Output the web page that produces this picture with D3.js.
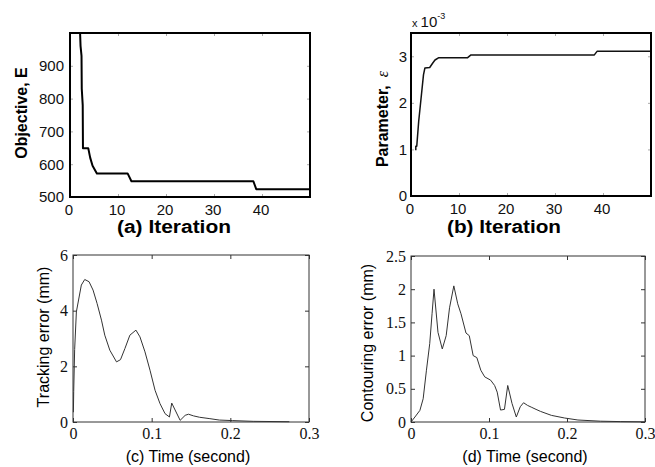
<!DOCTYPE html>
<html>
<head>
<meta charset="utf-8">
<script src="https://cdnjs.cloudflare.com/ajax/libs/d3/7.8.5/d3.min.js"></script>
<style>
  html, body { margin: 0; padding: 0; background: #fff; }
  svg { display: block; }
</style>
</head>
<body>
<svg id="chart" width="655" height="467"></svg>
<script>
// ---------- data ----------
// (a) objective vs iteration
const iterA = [2.1, 2.2, 2.4, 2.45, 2.65, 2.7, 3.8, 4.2, 4.7, 5.6, 12.0, 12.8, 38.2, 38.8, 50];
const objA  = [1000, 960, 930, 830, 780, 649, 649, 620, 595, 572, 572, 548, 548, 524, 524];
const ticksAx = [0, 10, 20, 30, 40];
const ticksAy = [500, 600, 700, 800, 900];

// (b) parameter epsilon vs iteration (in units of 1e-3)
const iterB  = [1.0, 1.0, 1.2, 1.6, 2.2, 2.6, 2.9, 3.9, 4.5, 5.0, 5.8, 11.8, 12.5, 38.2, 38.8, 50];
const paramB = [0.98, 1.07, 1.07, 1.6, 2.2, 2.6, 2.75, 2.76, 2.85, 2.92, 2.97, 2.97, 3.03, 3.03, 3.11, 3.11];
const ticksBx = [0, 10, 20, 30, 40];
const ticksBy = [0, 1, 2, 3];

// (c) tracking error (mm) vs time (s)
const timeC = [0.0005, 0.0009, 0.0021, 0.0043, 0.0106, 0.0149, 0.0204, 0.0255, 0.0306, 0.0362, 0.0404,
               0.0468, 0.0553, 0.0604, 0.066, 0.0723, 0.08, 0.0851, 0.0915, 0.0979, 0.1043, 0.1106,
               0.117, 0.1226, 0.1255, 0.1362, 0.1426, 0.1468, 0.1532, 0.161, 0.174, 0.186, 0.203, 0.229, 0.275];
const errC  = [0.35, 1.1, 2.6, 3.96, 4.92, 5.12, 5.04, 4.74, 4.26, 3.66, 3.12,
               2.58, 2.16, 2.24, 2.64, 3.12, 3.3, 3.06, 2.52, 1.86, 1.14, 0.66,
               0.3, 0.18, 0.68, 0.06, 0.24, 0.28, 0.22, 0.17, 0.12, 0.07, 0.05, 0.024, 0.01];
const ticksCx = [0, 0.1, 0.2, 0.3];
const ticksCy = [0, 2, 4, 6];

// (d) contouring error (mm) vs time (s)
const timeD = [0, 0.005, 0.0114, 0.0156, 0.0198, 0.024, 0.027, 0.0295, 0.0346, 0.0401, 0.0451, 0.0494,
               0.0549, 0.0599, 0.0641, 0.0705, 0.0747, 0.0797, 0.0844, 0.0895, 0.0945, 0.1021, 0.1072,
               0.1105, 0.1148, 0.1198, 0.124, 0.1295, 0.135, 0.1401, 0.1443, 0.1494, 0.1549, 0.1603,
               0.166, 0.18, 0.197, 0.214, 0.243, 0.269, 0.3];
const errD  = [0, 0.075, 0.175, 0.35, 0.78, 1.18, 1.63, 2.0, 1.35, 1.1, 1.3, 1.72,
               2.05, 1.78, 1.63, 1.34, 1.3, 1.0, 0.97, 0.78, 0.68, 0.63, 0.55,
               0.45, 0.18, 0.19, 0.55, 0.28, 0.075, 0.23, 0.29, 0.25, 0.22, 0.19,
               0.16, 0.1, 0.06, 0.03, 0.012, 0.006, 0.002];
const ticksDx = [0, 0.1, 0.2, 0.3];
const ticksDy = [0, 0.5, 1, 1.5, 2, 2.5];

// ---------- drawing ----------
const svg = d3.select("#chart");
const SANS = "'Liberation Sans', Arial, Helvetica, sans-serif";
const SERIF = "'Liberation Serif', 'Times New Roman', serif";

function panel(o) {
  const g = svg.append("g");
  const x = d3.scaleLinear().domain(o.xDomain).range([o.left, o.right]);
  const y = d3.scaleLinear().domain(o.yDomain).range([o.bottom, o.top]);

  const tk = o.tickLen;
  g.append("g").attr("transform", `translate(0,${o.top})`)
    .call(d3.axisTop(x).tickValues(o.xTicks).tickSizeInner(-tk).tickSizeOuter(0).tickFormat(""))
    .call(s => s.select(".domain").remove())
    .call(s => s.selectAll("line").attr("stroke", o.tickColor));
  g.append("g").attr("transform", `translate(${o.right},0)`)
    .call(d3.axisRight(y).tickValues(o.yTicks).tickSizeInner(-tk).tickSizeOuter(0).tickFormat(""))
    .call(s => s.select(".domain").remove())
    .call(s => s.selectAll("line").attr("stroke", o.tickColor));

  const xa = g.append("g").attr("transform", `translate(0,${o.bottom})`)
    .call(d3.axisBottom(x).tickValues(o.xTicks).tickSizeInner(-tk).tickSizeOuter(0)
      .tickPadding(o.xPad).tickFormat(o.xFmt));
  xa.select(".domain").remove();
  xa.selectAll("line").attr("stroke", o.tickColor);
  xa.selectAll("text").attr("font-family", o.tickFont).attr("font-size", o.tickSize)
    .attr("fill", "#111").attr("dx", o.xdx || 0);

  const ya = g.append("g").attr("transform", `translate(${o.left},0)`)
    .call(d3.axisLeft(y).tickValues(o.yTicks).tickSizeInner(-tk).tickSizeOuter(0)
      .tickPadding(o.yPad).tickFormat(o.yFmt));
  ya.select(".domain").remove();
  ya.selectAll("line").attr("stroke", o.tickColor);
  ya.selectAll("text").attr("font-family", o.tickFont).attr("font-size", o.tickSize).attr("fill", "#111");

  const pts = o.xs.map((v, i) => [v, o.ys[i]]);
  g.append("path").datum(pts)
    .attr("fill", "none").attr("stroke", o.lineColor).attr("stroke-width", o.lineWidth)
    .attr("stroke-linejoin", "round")
    .attr("d", d3.line().x(d => x(d[0])).y(d => y(d[1])));

  g.append("rect").attr("x", o.left).attr("y", o.top)
    .attr("width", o.right - o.left).attr("height", o.bottom - o.top)
    .attr("fill", "none").attr("stroke", o.frameColor).attr("stroke-width", o.frameWidth);

  const xl = g.append("text").attr("x", o.xlabX).attr("y", o.xlabY).attr("text-anchor", "middle")
    .attr("font-family", SANS).attr("font-size", o.xlabSize || o.labSize).attr("font-weight", o.labWeight)
    .attr("fill", "#000").text(o.xlab);
  if (o.xlabLen) xl.attr("textLength", o.xlabLen).attr("lengthAdjust", "spacingAndGlyphs");

  const yl = g.append("text")
    .attr("transform", `translate(${o.ylabX},${o.ylabY}) rotate(-90)`)
    .attr("text-anchor", "middle")
    .attr("font-family", SANS).attr("font-size", o.labSize).attr("font-weight", o.labWeight)
    .attr("fill", "#000");
  if (o.ylabParts) {
    o.ylabParts.forEach(p => {
      const t = yl.append("tspan").text(p.text);
      if (p.italic) t.attr("font-style", "italic").attr("font-family", SERIF).attr("font-weight", "normal");
      if (p.dx) t.attr("dx", p.dx);
    });
  } else yl.text(o.ylab);
  return { g, x, y };
}

const topCommon = {
  tickLen: 3, tickColor: "#aaa", tickFont: SANS, tickSize: 15,
  frameColor: "#000", frameWidth: 2, labSize: 16, labWeight: "bold",
  xlabSize: 18, xlabLen: 114,
  xPad: 7, yPad: 6, xdx: -1.5
};
const botCommon = {
  tickLen: 4, tickColor: "#333", tickFont: SERIF, tickSize: 16,
  frameColor: "#333", frameWidth: 1, labSize: 16, labWeight: "normal",
  xPad: 6, yPad: 5, lineColor: "#333", lineWidth: 1
};

// (a)
panel(Object.assign({}, topCommon, {
  left: 70, right: 310, top: 33, bottom: 197,
  xDomain: [0, 50], yDomain: [500, 1000], xTicks: ticksAx, yTicks: ticksAy,
  xFmt: d3.format("d"), yFmt: d3.format("d"),
  xs: iterA, ys: objA, lineColor: "#000", lineWidth: 2,
  xlab: "(a) Iteration", xlabX: 174, xlabY: 233,
  ylab: "Objective, E", ylabX: 27, ylabY: 113
}));

// (b)
panel(Object.assign({}, topCommon, {
  left: 411, right: 651, top: 33, bottom: 196,
  xDomain: [0, 50], yDomain: [0, 3.5], xTicks: ticksBx, yTicks: ticksBy,
  xFmt: d3.format("d"), yFmt: d3.format("d"), yPad: 4,
  xs: iterB, ys: paramB, lineColor: "#111", lineWidth: 1.5,
  xlab: "(b) Iteration", xlabX: 504, xlabY: 233,
  ylabParts: [{ text: "Parameter," }, { text: "\u03B5", italic: true, dx: 8 }],
  ylabX: 388, ylabY: 119
}));
const ex = svg.append("text").attr("x", 412).attr("y", 27)
  .attr("font-family", SANS).attr("fill", "#111");
ex.append("tspan").attr("font-size", 11).text("x ");
ex.append("tspan").attr("font-size", 15).text("10");
ex.append("tspan").attr("font-size", 9).attr("dy", -8).text("-3");

// (c)
panel(Object.assign({}, botCommon, {
  left: 73, right: 309, top: 255, bottom: 422,
  xDomain: [0, 0.3], yDomain: [0, 6], xTicks: ticksCx, yTicks: ticksCy,
  xFmt: d => d === 0 ? "0" : d3.format(".1f")(d), yFmt: d3.format("d"),
  xs: timeC, ys: errC,
  xlab: "(c) Time (second)", xlabX: 188, xlabY: 462,
  ylab: "Tracking error (mm)", ylabX: 49, ylabY: 337
}));

// (d)
panel(Object.assign({}, botCommon, {
  left: 411, right: 645, top: 256, bottom: 422,
  xDomain: [0, 0.3], yDomain: [0, 2.5], xTicks: ticksDx, yTicks: ticksDy,
  xFmt: d => d === 0 ? "0" : d3.format(".1f")(d), yFmt: d => d3.format("~g")(d),
  xs: timeD, ys: errD,
  xlab: "(d) Time (second)", xlabX: 525, xlabY: 462,
  ylab: "Contouring error (mm)", ylabX: 373, ylabY: 343
}));
</script>
</body>
</html>
